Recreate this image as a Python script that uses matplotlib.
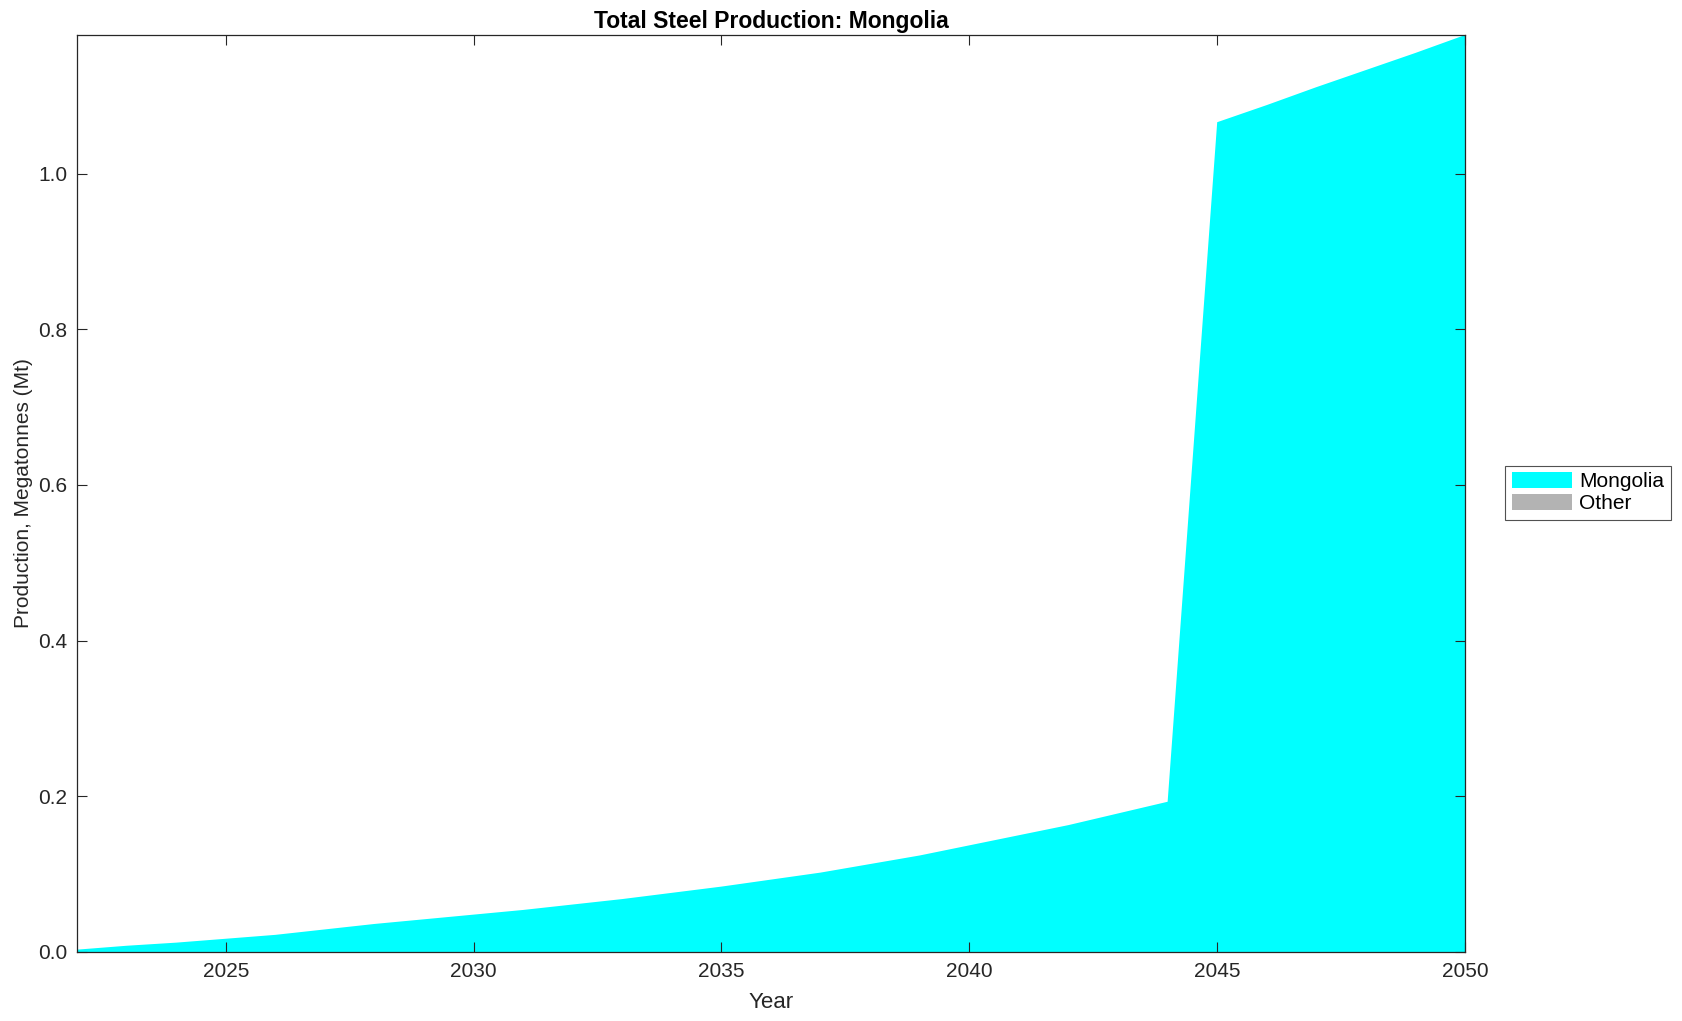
import matplotlib

matplotlib.use("Agg")
import matplotlib.pyplot as plt
import numpy as np

plt.rcParams["font.family"] = ["Liberation Sans", "DejaVu Sans"]

years = list(range(2022, 2051))
mongolia = [
    0.003, 0.008, 0.012, 0.017, 0.022, 0.029, 0.036, 0.042, 0.048, 0.054,
    0.061, 0.068, 0.076, 0.084, 0.093, 0.102, 0.113, 0.124, 0.137, 0.150,
    0.163, 0.178, 0.193, 1.066, 1.088, 1.111, 1.133, 1.155, 1.178,
]
other = [0.0] * len(years)
series_labels = ["Mongolia", "Other"]
series_colors = ["#00ffff", "#b3b3b3"]

fig = plt.figure(figsize=(16.83, 10.21), dpi=100)
ax = fig.add_axes([0.0458, 0.0676, 0.8247, 0.8981])

ax.stackplot(years, mongolia, other, labels=series_labels, colors=series_colors, linewidth=0)

ax.set_xlim(2022, 2050)
ax.set_ylim(0, max(mongolia))
ax.set_xticks(np.arange(2025, 2051, 5))
ax.set_yticks(np.arange(0, 1.01, 0.2))
ax.yaxis.set_major_formatter(matplotlib.ticker.FormatStrFormatter("%.1f"))
ax.tick_params(direction="in", top=True, right=True, length=7, width=0.8,
               labelsize=15, colors="#262626", labelcolor="#262626", pad=7)
for spine in ax.spines.values():
    spine.set_linewidth(0.9)
    spine.set_color("#262626")

ax.set_xlabel("Year", fontsize=16, color="#262626", labelpad=8)
ax.set_ylabel("Production, Megatonnes (Mt)", fontsize=15, color="#262626", labelpad=4)
ax.set_title("Total Steel Production: Mongolia", fontsize=16.5, fontweight="bold", pad=5)

leg = ax.legend(loc="center left", bbox_to_anchor=(1.029, 0.501), fontsize=15,
                frameon=True, fancybox=False, edgecolor="#262626",
                handlelength=2.9, handleheight=0.8, borderpad=0.3,
                labelspacing=0.15, handletextpad=0.35, borderaxespad=0)
leg.get_frame().set_linewidth(0.8)

fig.savefig("out.png", dpi=100)
